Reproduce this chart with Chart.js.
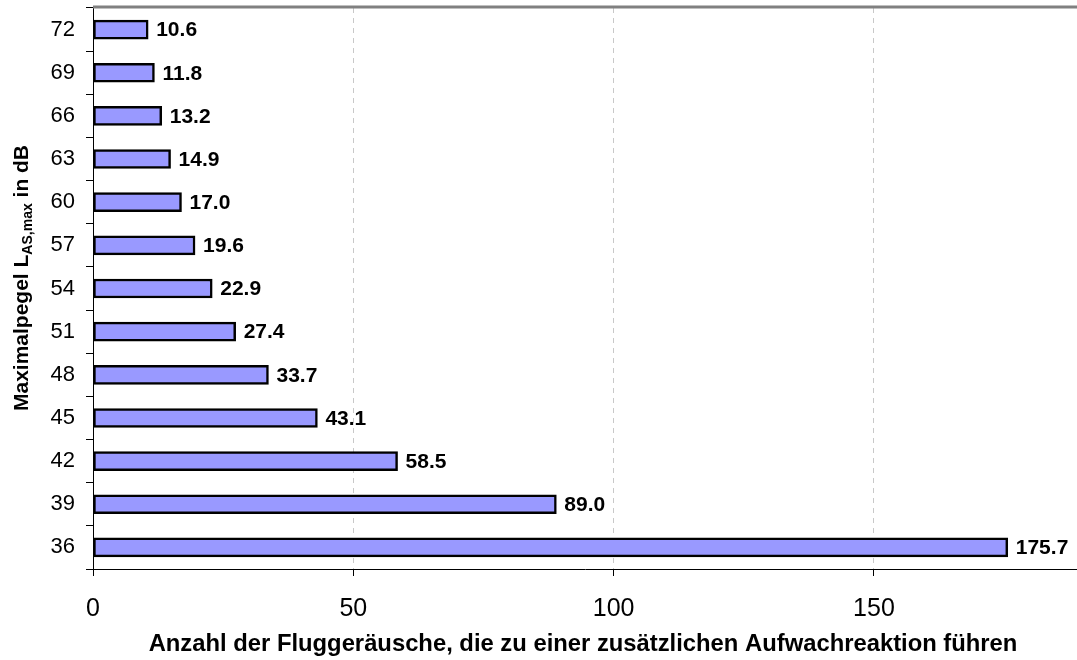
<!DOCTYPE html>
<html>
<head>
<meta charset="utf-8">
<script src="https://cdn.jsdelivr.net/npm/chart.js@4/dist/chart.umd.min.js"></script>
<style>
  html, body { margin: 0; padding: 0; background: #fff; }
  #wrap { width: 1077px; height: 660px; position: relative; }
</style>
</head>
<body>
<div id="wrap"><canvas id="chart"></canvas></div>
<script>
// Maximalpegel classes (top to bottom) and number of flight noises per extra awakening
const levels = ['72', '69', '66', '63', '60', '57', '54', '51', '48', '45', '42', '39', '36'];
const counts = [10.6, 11.8, 13.2, 14.9, 17.0, 19.6, 22.9, 27.4, 33.7, 43.1, 58.5, 89.0, 175.7];
const xTicks = [0, 50, 100, 150];

const FONT = '"Liberation Sans", Arial, sans-serif';

// value labels, frame line on top, axis titles
const extras = {
  id: 'extras',
  afterDatasetsDraw(chart) {
    const ctx = chart.ctx;
    const area = chart.chartArea;
    const meta = chart.getDatasetMeta(0);
    ctx.save();
    ctx.fillStyle = '#000';
    ctx.font = 'bold 21px ' + FONT;
    ctx.textBaseline = 'middle';
    ctx.textAlign = 'left';
    meta.data.forEach((bar, i) => {
      ctx.fillText(counts[i].toFixed(1), bar.x + 8, bar.y + 1);
    });

    // top frame
    ctx.strokeStyle = '#808080';
    ctx.lineWidth = 3;
    ctx.beginPath();
    ctx.moveTo(area.left, area.top - 1);
    ctx.lineTo(chart.width, area.top - 1);
    ctx.stroke();

    // x title
    ctx.font = 'bold 23.8px ' + FONT;
    ctx.textAlign = 'center';
    ctx.textBaseline = 'middle';
    ctx.fillText('Anzahl der Fluggeräusche, die zu einer zusätzlichen Aufwachreaktion führen', 583, 644);

    // y title with subscript
    const big = 'bold 21px ' + FONT;
    const small = 'bold 14px ' + FONT;
    const parts = [['Maximalpegel L', big, 0], ['AS,max', small, 6], [' in dB', big, 0]];
    let total = 0;
    parts.forEach(p => { ctx.font = p[1]; total += ctx.measureText(p[0]).width; });
    ctx.translate(22, 278);
    ctx.rotate(-Math.PI / 2);
    ctx.textAlign = 'left';
    let x = -total / 2;
    parts.forEach(p => {
      ctx.font = p[1];
      ctx.fillText(p[0], x, p[2]);
      x += ctx.measureText(p[0]).width;
    });
    ctx.restore();
  }
};

new Chart(document.getElementById('chart'), {
  type: 'bar',
  data: {
    labels: levels,
    datasets: [{
      data: counts,
      backgroundColor: '#9999ff',
      borderColor: '#000',
      borderWidth: 2.5,
      borderSkipped: false,
      barThickness: 19
    }]
  },
  options: {
    indexAxis: 'y',
    responsive: true,
    maintainAspectRatio: false,
    animation: false,
    layout: { padding: { top: 8, right: 0, bottom: 0, left: 0 } },
    plugins: { legend: { display: false }, tooltip: { enabled: false } },
    scales: {
      x: {
        min: 0,
        max: 189,
        afterBuildTicks: s => { s.ticks = xTicks.map(v => ({ value: v })); },
        afterFit: s => { s.height = 91; s.paddingLeft = 0; s.paddingRight = 0; },
        border: { color: '#000', width: 1, dash: [5, 5] },
        grid: {
          color: c => c.tick && c.tick.value === 0 ? 'rgba(0,0,0,0)' : '#c8c8c8',
          tickColor: '#000',
          tickBorderDash: [],
          tickLength: 7
        },
        ticks: { color: '#000', font: { family: FONT, size: 25 }, padding: 18, maxRotation: 0 }
      },
      y: {
        afterFit: s => { s.width = 93; s.paddingTop = 0; s.paddingBottom = 0; },
        border: { color: '#000', width: 1 },
        grid: { drawOnChartArea: false, offset: true, tickColor: '#000', tickLength: 7 },
        ticks: { color: '#000', font: { family: FONT, size: 22 }, padding: 11 }
      }
    }
  },
  plugins: [extras]
});
</script>
</body>
</html>
